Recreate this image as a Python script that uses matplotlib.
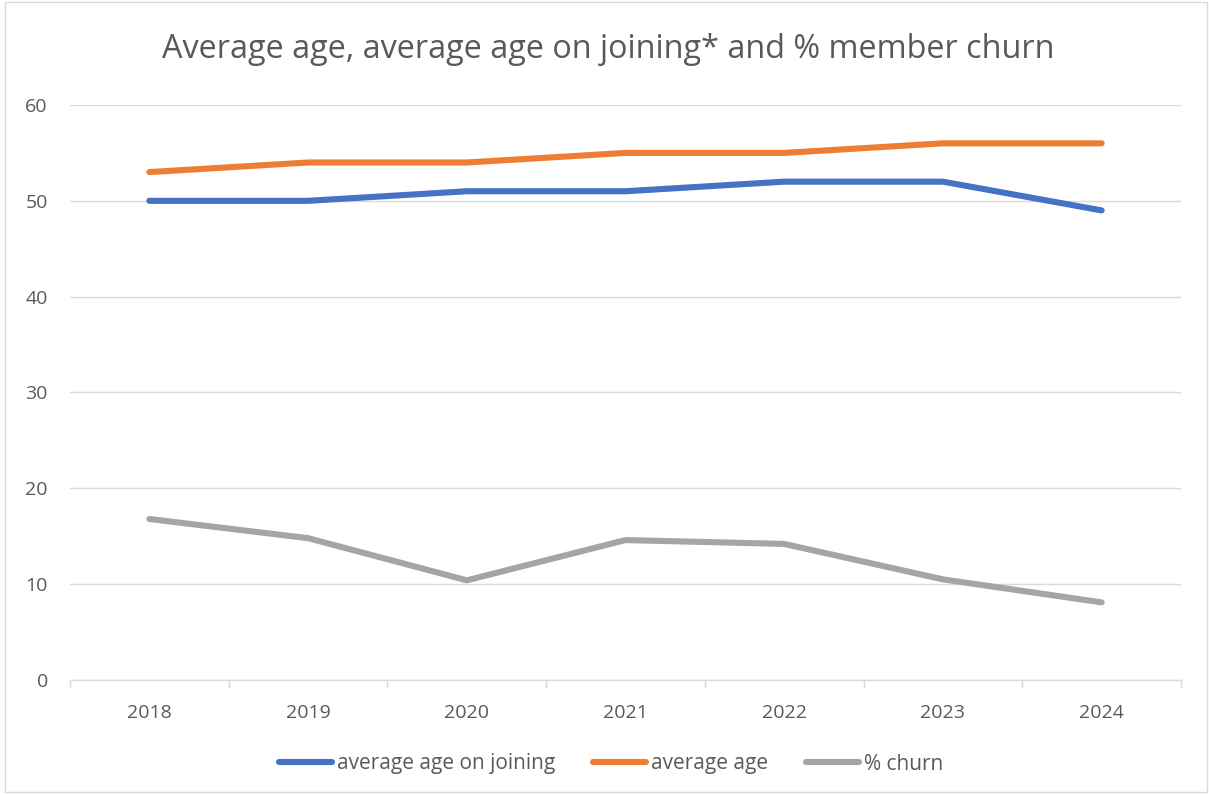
import matplotlib
matplotlib.use("Agg")
import matplotlib.pyplot as plt
from matplotlib.patches import Rectangle

years = ["2018", "2019", "2020", "2021", "2022", "2023", "2024"]
avg_age_joining = [50, 50, 51, 51, 52, 52, 49]
avg_age = [53, 54, 54, 55, 55, 56, 56]
churn = [16.8, 14.8, 10.4, 14.6, 14.2, 10.5, 8.1]
yticks = [0, 10, 20, 30, 40, 50, 60]

plt.rcParams['font.family'] = ['Open Sans', 'DejaVu Sans']
txt = '#595959'

fig = plt.figure(figsize=(12.09, 7.94), dpi=100)
W, H = 1209, 794
ax = fig.add_axes([70 / W, 1 - 680 / H, (1181 - 70) / W, (680 - 105) / H])

x = list(range(len(years)))
lw = 4.4
l1, = ax.plot(x, avg_age_joining, color='#4472C4', lw=lw, solid_capstyle='round', solid_joinstyle='round', label='average age on joining')
l2, = ax.plot(x, avg_age, color='#ED7D31', lw=lw, solid_capstyle='round', solid_joinstyle='round', label='average age')
l3, = ax.plot(x, churn, color='#A5A5A5', lw=lw, solid_capstyle='round', solid_joinstyle='round', label='% churn')

ax.set_xlim(-0.5, len(years) - 0.5)
ax.set_ylim(0, 60)
ax.set_yticks(yticks)
ax.set_yticklabels([str(v) for v in yticks], fontsize=14, color=txt)
ax.set_xticks(x)
ax.set_xticklabels(years, fontsize=14, color=txt)
ax.set_xticks([i - 0.5 for i in range(len(years) + 1)], minor=True)
ax.tick_params(axis='x', which='major', length=0, pad=17.5)
ax.tick_params(axis='x', which='minor', length=6, color='#D9D9D9', width=1)
ax.tick_params(axis='y', length=0, pad=16)
ax.grid(axis='y', color='#D9D9D9', lw=1)
ax.set_axisbelow(True)
for s in ['top', 'right', 'left']:
    ax.spines[s].set_visible(False)
ax.spines['bottom'].set_color('#D9D9D9')
ax.spines['bottom'].set_linewidth(1)

fig.text(608 / W, 1 - 49 / H, 'Average age, average age on joining* and % member churn',
         ha='center', va='center', fontsize=23.3, color=txt)

fig.legend(handles=[l1, l2, l3], loc='center', bbox_to_anchor=(611 / W, 1 - 764 / H), ncol=3,
           frameon=False, fontsize=15, handlelength=2.55, handletextpad=0.24, columnspacing=1.8,
           labelcolor=txt)

fig.patches.append(Rectangle((5 / W, 2 / H), 1202 / W, 790 / H, transform=fig.transFigure,
                             fill=False, edgecolor='#D9D9D9', lw=1))

fig.savefig('out.png', dpi=100, facecolor='white')
